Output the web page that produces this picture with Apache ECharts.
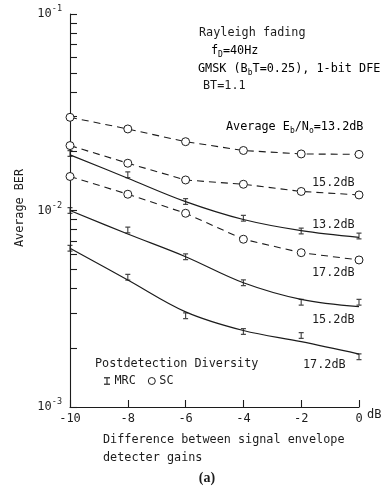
<!DOCTYPE html>
<html><head><meta charset="utf-8">
<script src="https://cdn.jsdelivr.net/npm/echarts@6/dist/echarts.min.js"></script>
<style>html,body{margin:0;padding:0;background:#fff}#c{width:385px;height:490px}</style>
</head><body><div id="c"></div>
<script>
// ---- data ----
const xValues = [-10, -8, -6, -4, -2, 0];
const xTicks = [-10, -8, -6, -4, -2, 0];
const yMajorTicks = [0.001, 0.01, 0.1];
const yMinorTicks = [0.002,0.003,0.004,0.005,0.006,0.007,0.008,0.009,0.02,0.03,0.04,0.05,0.06,0.07,0.08,0.09];
// SC (selection combining), dashed with circles
const sc132 = [0.0298, 0.0260, 0.0224, 0.0202, 0.0194, 0.0193];
const sc152 = [0.0214, 0.0174, 0.0143, 0.0136, 0.0125, 0.0120];
const sc172 = [0.0149, 0.0121, 0.00968, 0.00714, 0.00610, 0.00560];
// MRC measured points
const mrc132 = [0.0195, 0.0152, 0.0111, 0.00913, 0.00787, 0.00742];
const mrc152 = [0.0100, 0.00796, 0.00582, 0.00429, 0.00341, 0.00341];
const mrc172 = [0.00642, 0.00457, 0.00291, 0.00242, 0.00231, 0.00180];
// MRC fitted curves (read at the same x positions)
const mrc132Fit = [0.0192, 0.0146, 0.0111, 0.0090, 0.0079, 0.0073];
const mrc152Fit = [0.0100, 0.00759, 0.00582, 0.00429, 0.00353, 0.00324];
const mrc172Fit = [0.00642, 0.00443, 0.00305, 0.00245, 0.00215, 0.00186];

const FONT = '"DejaVu Sans Mono", monospace';
const INK = '#1c1c1c';
const pair = arr => xValues.map((x, i) => [x, arr[i]]);
const mrcSymbol = 'path://M0,0H6V1.4H3.7V6.6H6V8H0V6.6H2.3V1.4H0Z';

function scSeries(arr) {
  return { name: 'SC', type: 'line', data: pair(arr), symbol: 'circle', symbolSize: 8, showSymbol: true,
    lineStyle: { color: INK, width: 1.1, type: [7, 5] },
    itemStyle: { color: '#ffffff', borderColor: INK, borderWidth: 1 }, z: 3 };
}
function fitSeries(arr) {
  return { name: 'MRC fit', type: 'line', data: pair(arr), smooth: 0.35, showSymbol: false,
    lineStyle: { color: INK, width: 1.2 }, z: 2 };
}
function mrcSeries(arr) {
  return { name: 'MRC', type: 'scatter', data: pair(arr), symbol: mrcSymbol, symbolSize: [5, 7],
    itemStyle: { color: INK }, z: 4 };
}

const base = { fontFamily: FONT, fontSize: 11.8, fill: INK };
function txt(x, y, text, extra) {
  return { type: 'text', x: x, y: y, silent: true,
    style: Object.assign({}, base, { text: text, textVerticalAlign: 'middle' }, extra || {}) };
}
const subRich = {
  n: { fontFamily: FONT, fontSize: 11.8, color: INK },
  sub: { fontFamily: FONT, fontSize: 8, color: INK, padding: [7, 0, 0, 0] }
};

const chart = echarts.init(document.getElementById('c'));
chart.setOption({
  animation: false,
  grid: { left: 70, right: 26, top: 14, bottom: 83, containLabel: false, outerBoundsMode: 'none' },
  xAxis: {
    type: 'value', min: -10, max: 0, interval: 2,
    axisLine: { onZero: false, lineStyle: { color: INK, width: 1.1 } },
    axisTick: { inside: true, length: 7, lineStyle: { color: INK, width: 1.1 }, customValues: xTicks },
    axisLabel: { color: INK, fontFamily: FONT, fontSize: 12, margin: 6, customValues: xTicks,
      formatter: v => String(v) },
    splitLine: { show: false }
  },
  yAxis: {
    type: 'log', logBase: 10, min: 0.001, max: 0.1, position: 'left',
    axisLine: { show: true, onZero: false, lineStyle: { color: INK, width: 1.1 } },
    axisTick: { inside: true, length: 7, lineStyle: { color: INK, width: 1.1 },
      customValues: yMajorTicks.concat(yMinorTicks) },
    axisLabel: { customValues: yMajorTicks, margin: 8,
      formatter: v => '{b|10}{s|' + Math.round(Math.log10(v)) + '}',
      rich: { b: { fontFamily: FONT, fontSize: 12, color: INK },
              s: { fontFamily: FONT, fontSize: 8.5, color: INK, padding: [0, 0, 10, 0] } } },
    splitLine: { show: false }
  },
  legend: {
    left: 99, top: 370, itemGap: 12, itemWidth: 7, itemHeight: 8,
    textStyle: { fontFamily: FONT, fontSize: 11.8, color: INK, padding: [0, 0, 0, -1] },
    data: [{ name: 'MRC', icon: mrcSymbol, itemStyle: { color: INK } },
           { name: 'SC', icon: 'circle', itemStyle: { color: '#ffffff', borderColor: INK, borderWidth: 1 } }]
  },
  series: [
    scSeries(sc132), scSeries(sc152), scSeries(sc172),
    fitSeries(mrc132Fit), fitSeries(mrc152Fit), fitSeries(mrc172Fit),
    mrcSeries(mrc132), mrcSeries(mrc152), mrcSeries(mrc172)
  ],
  graphic: [
    txt(199, 33, 'Rayleigh fading'),
    { type: 'text', x: 211, y: 51, silent: true, style: { text: '{n|f}{sub|D}{n|=40Hz}', rich: subRich, textVerticalAlign: 'middle' } },
    { type: 'text', x: 198, y: 69, silent: true, style: { text: '{n|GMSK (B}{sub|b}{n|T=0.25), 1-bit DFE}', rich: subRich, textVerticalAlign: 'middle' } },
    txt(203, 86, 'BT=1.1'),
    { type: 'text', x: 226, y: 127, silent: true, style: { text: '{n|Average E}{sub|b}{n|/N}{sub|o}{n|=13.2dB}', rich: subRich, textVerticalAlign: 'middle' } },
    txt(312, 183, '15.2dB'),
    txt(312, 225, '13.2dB'),
    txt(312, 273, '17.2dB'),
    txt(312, 320, '15.2dB'),
    txt(303, 365, '17.2dB'),
    txt(95, 364, 'Postdetection Diversity'),
    txt(367, 415, 'dB', { fontSize: 12 }),
    { type: 'text', x: 20, y: 208, rotation: Math.PI / 2, silent: true,
      style: Object.assign({}, base, { text: 'Average BER', textAlign: 'center', textVerticalAlign: 'middle' }) },
    txt(103, 440, 'Difference between signal envelope'),
    txt(103, 458, 'detecter gains'),
    txt(207, 478, '(a)', { fontFamily: '"Liberation Serif", serif', fontWeight: 'bold', fontSize: 14, textAlign: 'center' })
  ]
});
</script></body></html>
